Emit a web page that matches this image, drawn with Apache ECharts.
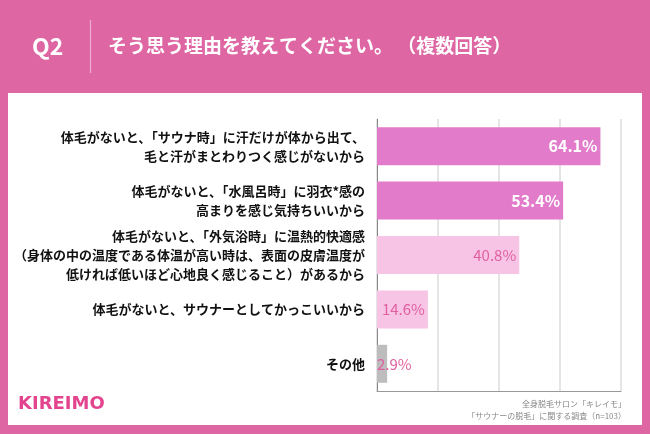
<!DOCTYPE html>
<html>
<head>
<meta charset="utf-8">
<script src="https://cdn.jsdelivr.net/npm/echarts@6/dist/echarts.min.js"></script>
<style>html,body{margin:0;padding:0;background:#dd66a3;}#c{width:650px;height:434px;}</style>
</head>
<body>
<div id="c"></div>
<script>
const categories = [
  '体毛がないと、「サウナ時」に汗だけが体から出て、\n毛と汗がまとわりつく感じがないから',
  '体毛がないと、「水風呂時」に羽衣*感の\n高まりを感じ気持ちいいから',
  '体毛がないと、「外気浴時」に温熱的快適感\n（身体の中の温度である体温が高い時は、表面の皮膚温度が\n低ければ低いほど心地良く感じること）があるから',
  '体毛がないと、サウナーとしてかっこいいから',
  'その他'
];
const values = [64.1, 53.4, 40.8, 14.6, 2.9];
const axisTicks = [0, 17.5, 35, 52.5, 70];
const titleQ = 'Q2';
const titleText = 'そう思う理由を教えてください。 （複数回答）';
const sourceLines = ['全身脱毛サロン「キレイモ」', '「サウナーの脱毛」に関する調査（n=103）'];

const FONT = '"Noto Sans CJK JP", "Noto Sans", sans-serif';
const barColors = ['#e27bca', '#e27bca', '#f7c4e6', '#f7c4e6', '#bdbdbd'];
const labelStyles = [
  {position: 'insideRight', distance: 3, color: '#ffffff', fontWeight: 'bold', fontSize: 16},
  {position: 'insideRight', distance: 3, color: '#ffffff', fontWeight: 'bold', fontSize: 16},
  {position: 'insideRight', distance: 3, color: '#e0609f', fontWeight: 'normal', fontSize: 15},
  {position: 'insideRight', distance: 3, color: '#e0609f', fontWeight: 'normal', fontSize: 15},
  {position: 'insideLeft', distance: 0, color: '#e0609f', fontWeight: 'normal', fontSize: 15}
];

const chart = echarts.init(document.getElementById('c'));
const option = {
  backgroundColor: '#dd66a3',
  animation: false,
  textStyle: {fontFamily: FONT},
  graphic: [
    {type: 'rect', shape: {x: 8, y: 93, width: 634, height: 332}, style: {fill: '#ffffff'}, z: -10},
    {type: 'line', shape: {x1: 90.5, y1: 20, x2: 90.5, y2: 73}, style: {stroke: '#f2a9d0', lineWidth: 1.2}},
    {type: 'text', left: 32, top: 35, style: {text: titleQ, fill: '#ffffff', font: 'bold 23px ' + FONT}},
    {type: 'text', left: 108, top: 36, style: {text: titleText, fill: '#ffffff', font: 'bold 19px ' + FONT}},
    {type: 'text', left: 18, top: 395, style: {text: 'KIREIMO', fill: '#e2458e', font: 'bold 18px "DejaVu Sans", sans-serif'}},
    {type: 'text', right: 24, top: 400, style: {text: sourceLines[0], fill: '#888888', font: '8px ' + FONT, align: 'right'}},
    {type: 'text', right: 24, top: 412, style: {text: sourceLines[1], fill: '#888888', font: '8px ' + FONT, align: 'right'}}
  ],
  grid: {left: 377, right: 29, top: 119, bottom: 43, containLabel: false},
  xAxis: {
    type: 'value', min: axisTicks[0], max: axisTicks[axisTicks.length - 1],
    interval: axisTicks[1] - axisTicks[0],
    axisLabel: {show: false}, axisTick: {show: false},
    axisLine: {show: true, lineStyle: {color: '#999999', width: 1}},
    splitLine: {show: true, lineStyle: {color: '#dddddd', width: 1.5}}
  },
  yAxis: {
    type: 'category', inverse: true, data: categories,
    axisTick: {show: false},
    axisLine: {show: true, lineStyle: {color: '#888888', width: 1}},
    axisLabel: {color: '#111111', fontWeight: 'bold', fontSize: 13, lineHeight: 19, margin: 12, align: 'right', fontFamily: FONT}
  },
  series: [{
    type: 'bar',
    barWidth: 38,
    data: values.map((v, i) => ({
      value: v,
      itemStyle: {color: barColors[i]},
      label: Object.assign({show: true, formatter: '{c}%', fontFamily: FONT}, labelStyles[i])
    }))
  }]
};
chart.setOption(option);
</script>
</body>
</html>
